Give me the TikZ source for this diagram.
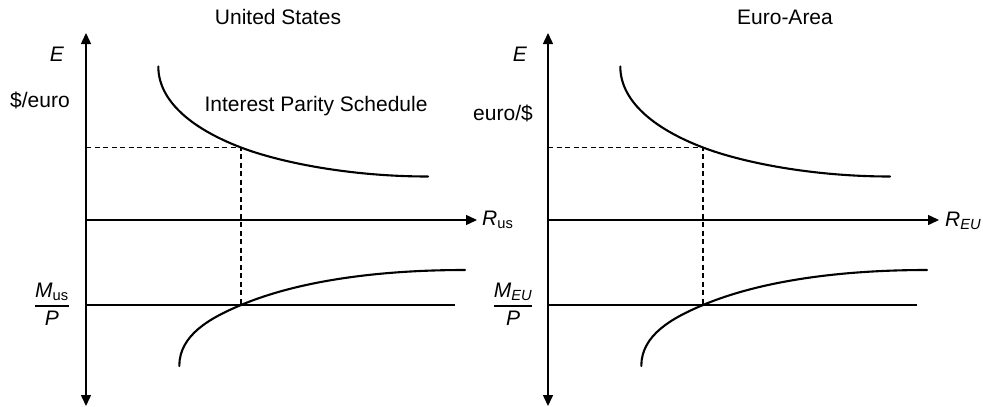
\documentclass[tikz,border=0pt]{standalone}
\usepackage{amsmath}
\usepackage{fontspec}
\setmainfont{Liberation Sans}
\usetikzlibrary{arrows.meta}
\newcommand{\myfrac}[2]{$\genfrac{}{}{1.3pt}{0}{\hbox{#1}}{\hbox{#2}}$}
\begin{document}
\begin{tikzpicture}[x=1pt,y=-1pt,
  axis/.style={line width=1.5pt,-{Triangle[length=11pt,width=10pt]}},
  mline/.style={line width=1.3pt},
  curve/.style={line width=2.1pt,line cap=round},
  guide/.style={line width=1.1pt,dash pattern=on 5pt off 3.5pt},
  lab/.style={font=\fontsize{21}{25}\selectfont, inner sep=0pt}]
\useasboundingbox (0,0) rectangle (983,407);
% titles
\node[lab] (t1) at (278,17) {United States};
\node[lab] (t2) at (785,17) {Euro-Area};
% left labels
\node[lab] (e1) at (57,54) {\textit{E}};
\node[lab] (u1) at (40,100) {\$/euro};
\node[lab] (ips) at (316,106) {Interest Parity Schedule};
\node[lab,anchor=west] (r1) at (482,220) {\textit{R}\textsubscript{us}};
\node[lab] (m1) at (52,304) {\myfrac{\textit{M}\textsubscript{us}}{\textit{P}}};
% right labels
\node[lab] (e2) at (520,54) {\textit{E}};
\node[lab] (u2) at (503,113) {euro/\$};
\node[lab,anchor=west] (r2) at (945,221) {\textit{R}\textsubscript{\textit{EU}}};
\node[lab] (m2) at (513,304) {\myfrac{\textit{M}\textsubscript{\textit{EU}}}{\textit{P}}};
\foreach \s/\i in {0/1,462/2}{
\begin{scope}[xshift=\s pt]
  \coordinate (o\i) at (86,220);
  \coordinate (top\i) at (86,33);
  \coordinate (bot\i) at (86,406);
  \coordinate (rt\i) at (477,220);
  \coordinate (ml\i) at (86,305);
  \coordinate (mr\i) at (455,305);
  \coordinate (dh\i) at (86,147.5);
  \coordinate (x\i) at (241,147.5);
  \coordinate (y\i) at (241,305);
  \draw[axis] (o\i) -- (top\i);
  \draw[axis] (o\i) -- (bot\i);
  \draw[axis] (o\i) -- (rt\i);
  \draw[mline] (ml\i) -- (mr\i);
  \draw[guide] (dh\i) -- (x\i) -- (y\i);
  \draw[curve] (158.3,66.5) .. controls (158.3,100) and (190,128) .. (x\i)
               .. controls (280,162.4) and (350,176.5) .. (428,176.5);
  \draw[curve] (179.3,366) .. controls (179.3,335) and (210,318) .. (y\i)
               .. controls (300,280.3) and (380,270) .. (465,270);
\end{scope}}
\end{tikzpicture}
\end{document}
